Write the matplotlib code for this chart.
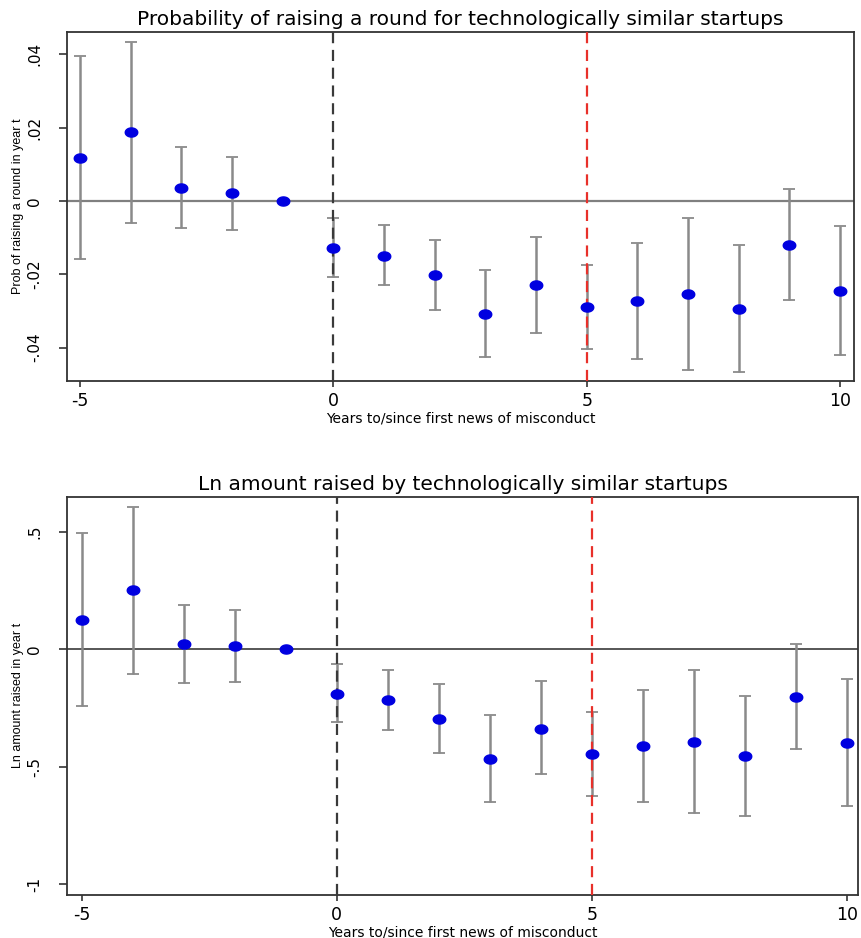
import numpy as np
import matplotlib.pyplot as plt
from matplotlib.path import Path

years = [-5, -4, -3, -2, -1, 0, 1, 2, 3, 4, 5, 6, 7, 8, 9, 10]

# top panel: probability of raising a round
prob = [0.0118, 0.0187, 0.0035, 0.0021, 0.0, -0.0129, -0.0149, -0.0202,
        -0.0307, -0.0230, -0.0288, -0.0273, -0.0255, -0.0295, -0.0119, -0.0245]
prob_hi = [0.0395, 0.0434, 0.0147, 0.0121, 0.0, -0.0047, -0.0065, -0.0107,
           -0.0189, -0.0098, -0.0175, -0.0115, -0.0047, -0.0120, 0.0034, -0.0069]
prob_lo = [-0.0158, -0.0060, -0.0075, -0.0078, 0.0, -0.0208, -0.0230, -0.0296,
           -0.0425, -0.0360, -0.0404, -0.0430, -0.0461, -0.0466, -0.0271, -0.0421]

# bottom panel: ln amount raised
amt = [0.125, 0.250, 0.021, 0.013, 0.0, -0.189, -0.216, -0.295,
       -0.468, -0.338, -0.447, -0.411, -0.393, -0.455, -0.203, -0.397]
amt_hi = [0.494, 0.604, 0.187, 0.166, 0.0, -0.064, -0.087, -0.149,
          -0.281, -0.136, -0.268, -0.173, -0.088, -0.200, 0.024, -0.125]
amt_lo = [-0.241, -0.106, -0.145, -0.138, 0.0, -0.311, -0.345, -0.443,
          -0.651, -0.533, -0.623, -0.650, -0.695, -0.711, -0.426, -0.667]

prob_ticks = [-0.04, -0.02, 0, 0.02, 0.04]
prob_ticklabels = ['-.04', '-.02', '0', '.02', '.04']
amt_ticks = [-1, -0.5, 0, 0.5]
amt_ticklabels = ['-1', '-.5', '0', '.5']
x_ticks = [-5, 0, 5, 10]

plt.rcParams['font.family'] = ['DejaVu Sans']

# flattened ellipse marker
t = np.linspace(0, 2 * np.pi, 40)
ellipse = Path(np.column_stack([np.cos(t), 0.73 * np.sin(t)]), closed=True)


def panel(ax, est, hi, lo, title, ylabel, yticks, yticklabels, ylim, xlim, zero_color, zero_lw):
    est = np.array(est)
    yerr = [est - np.array(lo), np.array(hi) - est]
    ax.axhline(0, color=zero_color, lw=zero_lw, zorder=1)
    ax.errorbar(years, est, yerr=yerr, fmt='none', ecolor='#8a8a8a',
                elinewidth=1.8, capsize=4, capthick=1.3, zorder=2)
    ax.axvline(0, color='#3a3a3a', lw=1.6, ls=(0, (5, 3)), zorder=3)
    ax.axvline(5, color='#e8302a', lw=1.6, ls=(0, (5, 3)), zorder=3)
    ax.plot(years, est, ls='none', marker=ellipse, ms=9, color='#0000e0', zorder=4)

    ax.set_xlim(xlim)
    ax.set_ylim(ylim)
    ax.set_xticks(x_ticks)
    ax.set_xticklabels([str(v) for v in x_ticks], fontsize=12.5)
    ax.set_yticks(yticks)
    ax.set_yticklabels(yticklabels, fontsize=11, rotation=90, va='center')
    ax.tick_params(axis='x', length=4, width=1.2, color='#333333', pad=4)
    ax.tick_params(axis='y', length=6, width=1.2, color='#333333', pad=12)
    for s in ax.spines.values():
        s.set_color('#333333')
        s.set_linewidth(1.3)

    ax.set_title(title, fontsize=14.5, pad=5)
    ax.set_xlabel('Years to/since first news of misconduct', fontsize=10, labelpad=1)
    ax.set_ylabel(ylabel, fontsize=9, family=['Liberation Sans Narrow', 'Liberation Sans'],
                  labelpad=2)


fig = plt.figure(figsize=(8.61, 9.38), dpi=100)
ax1 = fig.add_axes([0.0778, 0.5938, 0.9142, 0.3721])
ax2 = fig.add_axes([0.0778, 0.0458, 0.9187, 0.4247])

panel(ax1, prob, prob_hi, prob_lo,
      'Probability of raising a round for technologically similar startups',
      'Prob of raising a round in year t', prob_ticks, prob_ticklabels,
      (-0.0491, 0.0461), (-5.256, 10.276), '#808080', 1.6)
panel(ax2, amt, amt_hi, amt_lo,
      'Ln amount raised by technologically similar startups',
      'Ln amount raised in year t', amt_ticks, amt_ticklabels,
      (-1.046, 0.649), (-5.288, 10.22), '#3a3a3a', 1.2)

fig.savefig('out.png', dpi=100)
